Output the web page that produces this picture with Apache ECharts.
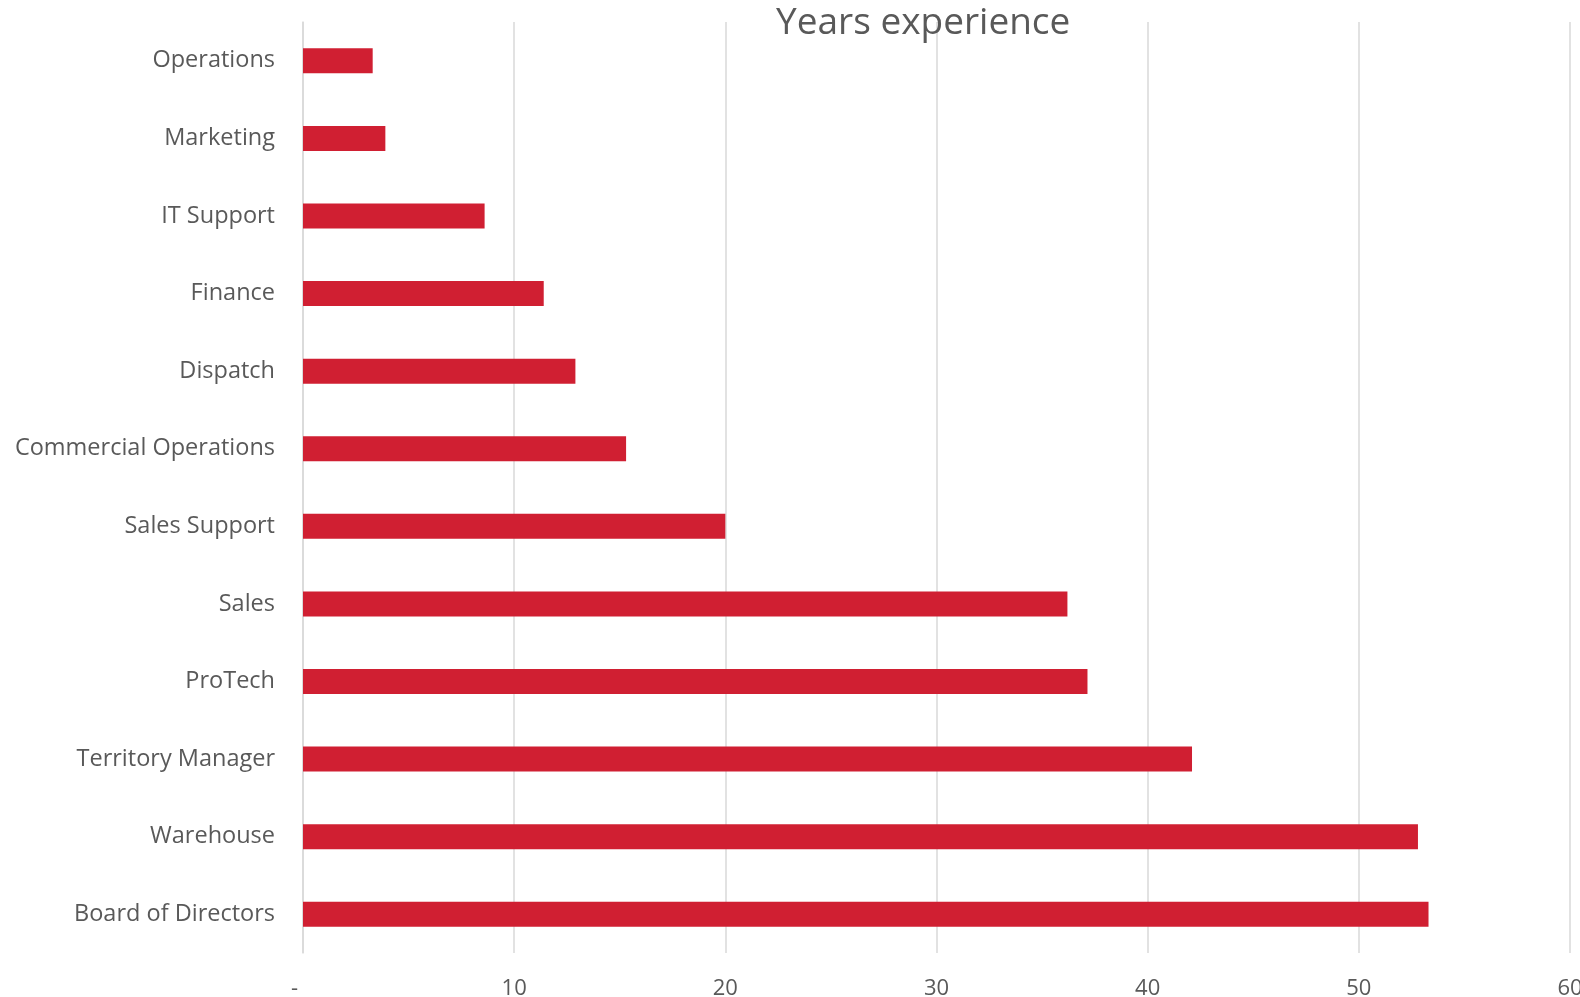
<!DOCTYPE html>
<html>
<head>
<meta charset="utf-8">
<style>
  html, body { margin: 0; padding: 0; background: #ffffff; }
  #chart { width: 1580px; height: 997px; }
</style>
<script src="https://cdn.jsdelivr.net/npm/echarts@6/dist/echarts.min.js"></script>
</head>
<body>
<div id="chart"></div>
<script>
// categories top to bottom
const departments = [
  "Operations", "Marketing", "IT Support", "Finance", "Dispatch",
  "Commercial Operations", "Sales Support", "Sales", "ProTech",
  "Territory Manager", "Warehouse", "Board of Directors"
];
const years = [3.3, 3.9, 8.6, 11.4, 12.9, 15.3, 20.0, 36.2, 37.15, 42.1, 52.8, 53.3];
const xTicks = [0, 10, 20, 30, 40, 50, 60];

const chart = echarts.init(document.getElementById("chart"));

const option = {
  animation: false,
  backgroundColor: "#ffffff",
  textStyle: { fontFamily: "Open Sans" },
  title: {
    text: "Years experience",
    left: 771,
    top: 0,
    textStyle: {
      fontFamily: "Open Sans",
      fontSize: 37,
      fontWeight: "normal",
      color: "#595959",
    },
  },
  grid: {
    left: 303,
    right: 10,
    top: 22,
    bottom: 44,
    containLabel: false,
    outerBoundsMode: "none",
  },
  xAxis: {
    type: "value",
    min: xTicks[0],
    max: xTicks[xTicks.length - 1],
    interval: 10,
    axisLine: { show: false },
    axisTick: { show: false },
    splitLine: { lineStyle: { color: "#d9d9d9", width: 1.5 } },
    axisLabel: {
      margin: 25,
      fontSize: 22,
      color: "#595959",
      fontFamily: "Open Sans",
      // zero shows as a dash, set a little left like the accounting format
      formatter: function (v) {
        return v === 0 ? "-   " : String(v);
      },
    },
  },
  yAxis: {
    type: "category",
    inverse: true,
    data: departments,
    axisLine: { show: true, lineStyle: { color: "#d9d9d9", width: 1.5 } },
    axisTick: { show: false },
    axisLabel: {
      margin: 28,
      fontSize: 23.5,
      color: "#595959",
      fontFamily: "Open Sans",
    },
  },
  series: [
    {
      type: "bar",
      data: years,
      barWidth: 25,
      itemStyle: { color: "#d01f32" },
    },
  ],
};

chart.setOption(option);
</script>
</body>
</html>
